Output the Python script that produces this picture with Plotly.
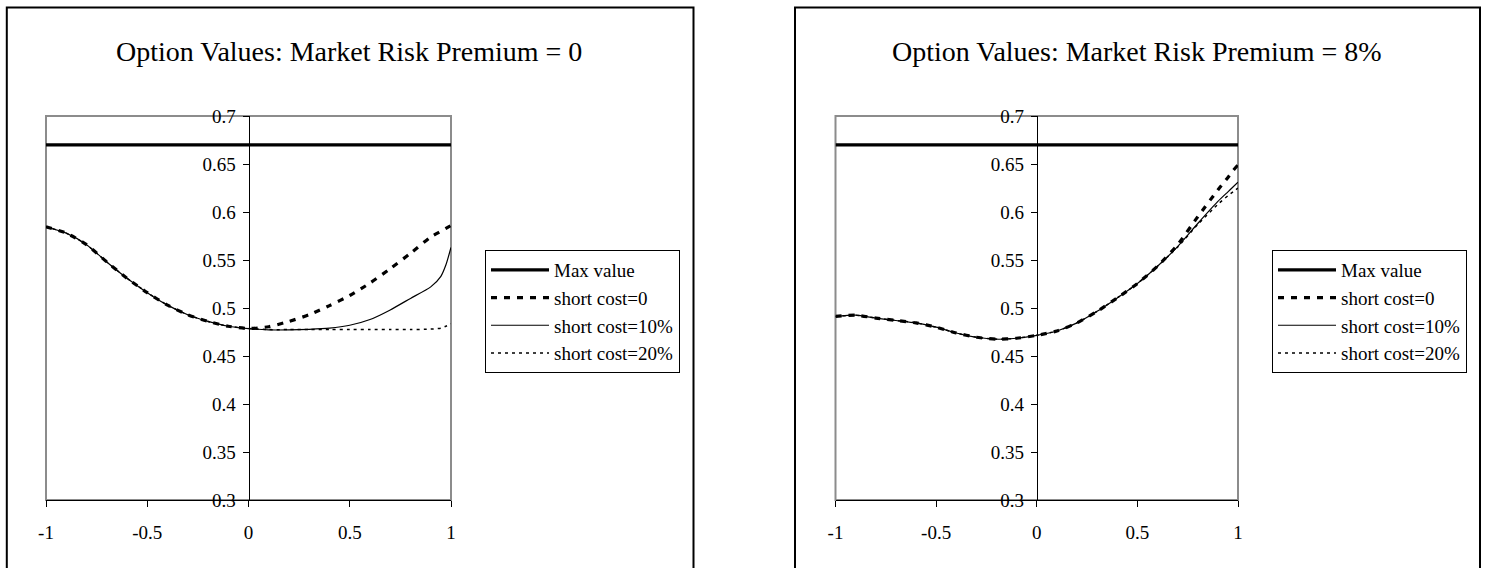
import plotly.graph_objects as go

# ---------------- data ----------------
X = [-1, -0.9, -0.8, -0.7, -0.6, -0.5, -0.4, -0.3, -0.2, -0.1, 0,
     0.1, 0.2, 0.3, 0.4, 0.5, 0.6, 0.7, 0.8, 0.9, 0.95, 0.975, 1.0]

SERIES_NAMES = ["Max value", "short cost=0", "short cost=10%", "short cost=20%"]

# Market risk premium = 0
MAX_VALUE_0 = [0.67] * len(X)
SC0_0 = [0.5846, 0.578, 0.566, 0.548, 0.531, 0.516, 0.503, 0.493, 0.486, 0.481, 0.4786,
         0.4805, 0.486, 0.493, 0.5025, 0.513, 0.526, 0.541, 0.557, 0.574, 0.580, 0.583, 0.586]
SC10_0 = [0.5846, 0.578, 0.566, 0.548, 0.531, 0.516, 0.503, 0.493, 0.486, 0.481, 0.4786,
          0.4772, 0.4772, 0.4778, 0.479, 0.482, 0.488, 0.498, 0.510, 0.522, 0.533, 0.545, 0.563]
SC20_0 = [0.5846, 0.578, 0.566, 0.548, 0.531, 0.516, 0.503, 0.493, 0.486, 0.481, 0.4786,
          0.4775, 0.4775, 0.4775, 0.4775, 0.4775, 0.4775, 0.4775, 0.4775, 0.478, 0.479, 0.481, 0.4835]

# Market risk premium = 8%
MAX_VALUE_8 = [0.67] * len(X)
SC0_8 = [0.4912, 0.4925, 0.4895, 0.487, 0.4845, 0.480, 0.474, 0.4695, 0.4675, 0.4685, 0.4715,
         0.476, 0.4845, 0.4965, 0.5105, 0.5255, 0.5435, 0.566, 0.595, 0.623, 0.636, 0.643, 0.649]
SC10_8 = [0.4912, 0.4925, 0.4895, 0.487, 0.4845, 0.480, 0.474, 0.4695, 0.4675, 0.4685, 0.4715,
          0.476, 0.4845, 0.4965, 0.5105, 0.5255, 0.5435, 0.564, 0.588, 0.611, 0.621, 0.626, 0.631]
SC20_8 = [0.4912, 0.4925, 0.4895, 0.487, 0.4845, 0.480, 0.474, 0.4695, 0.4675, 0.4685, 0.4715,
          0.476, 0.4845, 0.4965, 0.5105, 0.5255, 0.5435, 0.5635, 0.587, 0.608, 0.617, 0.621, 0.625]

TITLES = ["Option Values: Market Risk Premium = 0", "Option Values: Market Risk Premium = 8%"]
X_TICKS = [-1, -0.5, 0, 0.5, 1]
Y_TICKS = [0.3, 0.35, 0.4, 0.45, 0.5, 0.55, 0.6, 0.65, 0.7]

# ---------------- layout geometry ----------------
W, H = 1491, 568
FONT = "Liberation Serif"

def px_x(p):
    return p / W

def px_y(p):
    return 1 - p / H

panels = [
    dict(xdom=[px_x(46), px_x(451)], frame=(6.8, 693.5), title_x=349, legend_x=485,
         data=[MAX_VALUE_0, SC0_0, SC10_0, SC20_0]),
    dict(xdom=[px_x(835.5), px_x(1238)], frame=(795, 1480), title_x=1137, legend_x=1272,
         data=[MAX_VALUE_8, SC0_8, SC10_8, SC20_8]),
]
ydom = [px_y(500), px_y(116)]

styles = [
    dict(width=3.2, dash="solid"),
    dict(width=3.2, dash="6px,7px"),
    dict(width=1.2, dash="solid"),
    dict(width=1.5, dash="3px,4px"),
]

fig = go.Figure()
shapes = []
annotations = []
layout = {}

for i, p in enumerate(panels):
    n = "" if i == 0 else str(i + 1)
    xa, ya = "x" + n, "y" + n
    legend_name = "legend" if i == 0 else "legend" + str(i + 1)
    for name, vals, st in zip(SERIES_NAMES, p["data"], styles):
        fig.add_trace(go.Scatter(
            x=X, y=vals, name=name, mode="lines",
            line=dict(color="black", width=st["width"], dash=st["dash"],
                      shape="spline", smoothing=0.6),
            xaxis=xa, yaxis=ya, legend=legend_name, hoverinfo="skip"))

    xr = [-1, 1]
    zero_pos = p["xdom"][0] + (0 - xr[0]) / (xr[1] - xr[0]) * (p["xdom"][1] - p["xdom"][0])

    layout["xaxis" + n] = dict(
        domain=p["xdom"], range=xr, anchor=ya, tickvals=X_TICKS,
        ticktext=[f"{v:g}" for v in X_TICKS],
        showline=True, linecolor="black", linewidth=1,
        ticks="outside", ticklen=6, tickcolor="black", tickwidth=1,
        showgrid=False, zeroline=False, ticklabelstandoff=9,
        tickfont=dict(family=FONT, size=19, color="black"))
    layout["yaxis" + n] = dict(
        domain=ydom, range=[0.3, 0.7], anchor="free", position=zero_pos,
        tickvals=Y_TICKS, ticktext=[f"{v:g}" for v in Y_TICKS],
        showline=True, linecolor="black", linewidth=1,
        ticks="outside", ticklen=6, tickcolor="black", tickwidth=1,
        showgrid=False, zeroline=False, ticklabelstandoff=3,
        tickfont=dict(family=FONT, size=19, color="black"))

    layout[legend_name] = dict(
        x=px_x(p["legend_x"]), y=px_y(250), xanchor="left", yanchor="top",
        bordercolor="black", borderwidth=1, bgcolor="white",
        font=dict(family=FONT, size=19, color="black"),
        itemwidth=58, tracegroupgap=0, traceorder="normal")

    # gray plot-area frame
    shapes.append(dict(type="rect", xref=xa + " domain", yref=ya + " domain",
                       x0=0, x1=1, y0=0, y1=1, layer="below",
                       line=dict(color="#8c8c8c", width=2), fillcolor="rgba(0,0,0,0)"))
    # outer chart frame
    shapes.append(dict(type="rect", xref="paper", yref="paper",
                       x0=px_x(p["frame"][0]), x1=px_x(p["frame"][1]),
                       y0=-0.05, y1=px_y(7.5),
                       line=dict(color="black", width=2), fillcolor="rgba(0,0,0,0)"))
    annotations.append(dict(text=TITLES[i], xref="paper", yref="paper",
                            x=px_x(p["title_x"]), y=px_y(51), xanchor="center", yanchor="middle",
                            showarrow=False, font=dict(family=FONT, size=28, color="black")))

fig.update_layout(
    width=W, height=H, autosize=False,
    margin=dict(l=0, r=0, t=0, b=0),
    paper_bgcolor="white", plot_bgcolor="white",
    template="none", showlegend=True,
    shapes=shapes, annotations=annotations,
    **layout)

# remove the page's default body margin so the figure sits at the window origin
fig.write_html("out.html",
               config={"displayModeBar": False, "staticPlot": True},
               post_script="document.body.style.margin='0';document.body.style.overflow='hidden';")
